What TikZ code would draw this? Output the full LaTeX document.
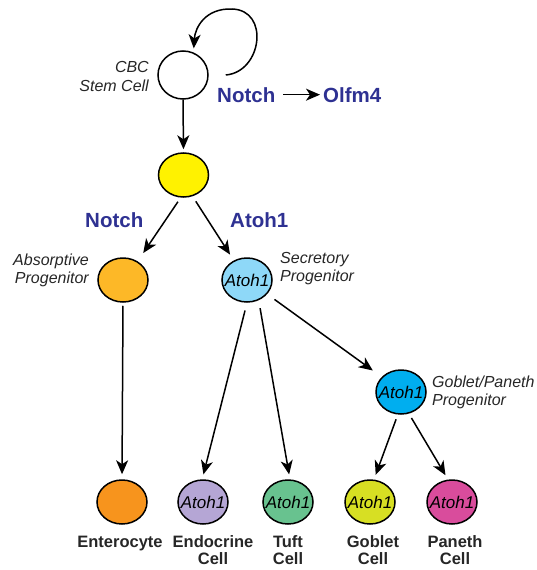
\documentclass[tikz,border=0pt]{standalone}
\usepackage{fontspec}
\setmainfont{Liberation Sans}
\usetikzlibrary{shapes.geometric,arrows.meta}
\definecolor{cyel}{HTML}{FFF200}
\definecolor{cabs}{HTML}{FDB827}
\definecolor{cent}{HTML}{F7941D}
\definecolor{csec}{HTML}{8ED8F8}
\definecolor{cgp}{HTML}{00AEEF}
\definecolor{cendo}{HTML}{B5A6D5}
\definecolor{ctuft}{HTML}{68C28F}
\definecolor{cgob}{HTML}{D7DF23}
\definecolor{cpan}{HTML}{D94C9C}
\definecolor{cnavy}{HTML}{2E3192}
\tikzset{
  cell/.style={ellipse,draw=black,line width=1.5pt,minimum width=50pt,minimum height=44pt,inner sep=0pt},
  atoh/.style={label={[font=\fontsize{17}{19}\selectfont\itshape,inner sep=0pt]center:Atoh1}},
  ilab/.style={font=\fontsize{16}{18}\selectfont\itshape,inner sep=0pt,text=black!85},
  blab/.style={font=\fontsize{16.5}{18}\selectfont\bfseries,inner sep=0pt,anchor=base,text=black!85},
  nlab/.style={font=\fontsize{20.5}{22}\selectfont\bfseries,inner sep=0pt,anchor=base west,text=cnavy},
  arr/.style={line width=1.5pt,-{Stealth[length=14pt,width=12pt,inset=4pt]}}
}
\begin{document}
\begin{tikzpicture}[x=1pt,y=-1pt]
\useasboundingbox (0,0) rectangle (536,570);
% cells
\node[cell,fill=white,minimum height=48pt] (cbc) at (183,75) {};
\node[cell,fill=cyel] (yel) at (183.5,175) {};
\node[cell,fill=cabs] (abs) at (123,280) {};
\node[cell,fill=csec,atoh] (sec) at (247,280) {};
\node[cell,fill=cgp,atoh] (gp) at (401,392) {};
\node[cell,fill=cent] (ent) at (122,502) {};
\node[cell,fill=cendo,atoh] (endo) at (203,502) {};
\node[cell,fill=ctuft,atoh] (tuft) at (288,502) {};
\node[cell,fill=cgob,atoh] (gob) at (370,502) {};
\node[cell,fill=cpan,atoh] (pan) at (452,502) {};
% italic labels
\node[ilab,anchor=base east] (cbc1) at (149,72) {CBC};
\node[ilab,anchor=base east] (cbc2) at (149,91) {Stem Cell};
\node[ilab,anchor=base east] (abs1) at (89,265) {Absorptive};
\node[ilab,anchor=base east] (abs2) at (89,283) {Progenitor};
\node[ilab,anchor=base west] (sec1) at (280,263) {Secretory};
\node[ilab,anchor=base west] (sec2) at (280,281) {Progenitor};
\node[ilab,anchor=base west] (gp1) at (432,387) {Goblet/Paneth};
\node[ilab,anchor=base west] (gp2) at (432,405) {Progenitor};
% bold labels
\node[blab] (l1) at (120,547) {Enterocyte};
\node[blab] (l2a) at (213,547) {Endocrine};
\node[blab] (l2b) at (213,564) {Cell};
\node[blab] (l3a) at (288,547) {Tuft};
\node[blab] (l3b) at (288,564) {Cell};
\node[blab] (l4a) at (373,547) {Goblet};
\node[blab] (l4b) at (373,564) {Cell};
\node[blab] (l5a) at (455,547) {Paneth};
\node[blab] (l5b) at (455,564) {Cell};
% navy labels
\node[nlab] (n1) at (217,102) {Notch};
\node[nlab] (o4) at (323,102) {Olfm4};
\node[nlab] (n2) at (85,227) {Notch};
\node[nlab] (a2) at (230,227) {Atoh1};
% arrows
\draw[arr,shorten <=8pt,shorten >=3pt] (n1.east) -- (o4.west);
\draw[arr,shorten >=4pt] ([xshift=17pt]cbc.east) .. controls (262,72) and (270,10) .. (232,9)
      .. controls (205,8) and (195,28) .. (cbc.65);
\draw[arr,shorten >=3pt] (cbc.south) -- (yel.north);
\draw[arr,shorten <=5pt,shorten >=10pt] (yel.263) -- (abs.52);
\draw[arr,shorten <=6pt,shorten >=7pt] (yel.293) -- (sec.124);
\draw[arr,shorten <=3pt,shorten >=5pt] (abs.south) -- (ent.north);
\draw[arr,shorten <=8pt,shorten >=5pt] (sec.270) -- (endo.92);
\draw[arr,shorten <=8pt,shorten >=5pt] (sec.300) -- (tuft.85);
\draw[arr,shorten <=9pt,shorten >=11pt] (sec.325) -- (gp.142);
\draw[arr,shorten <=5pt,shorten >=5pt] (gp.262) -- (gob.80);
\draw[arr,shorten <=5pt,shorten >=5pt] (gp.290) -- (pan.100);
\end{tikzpicture}
\end{document}
